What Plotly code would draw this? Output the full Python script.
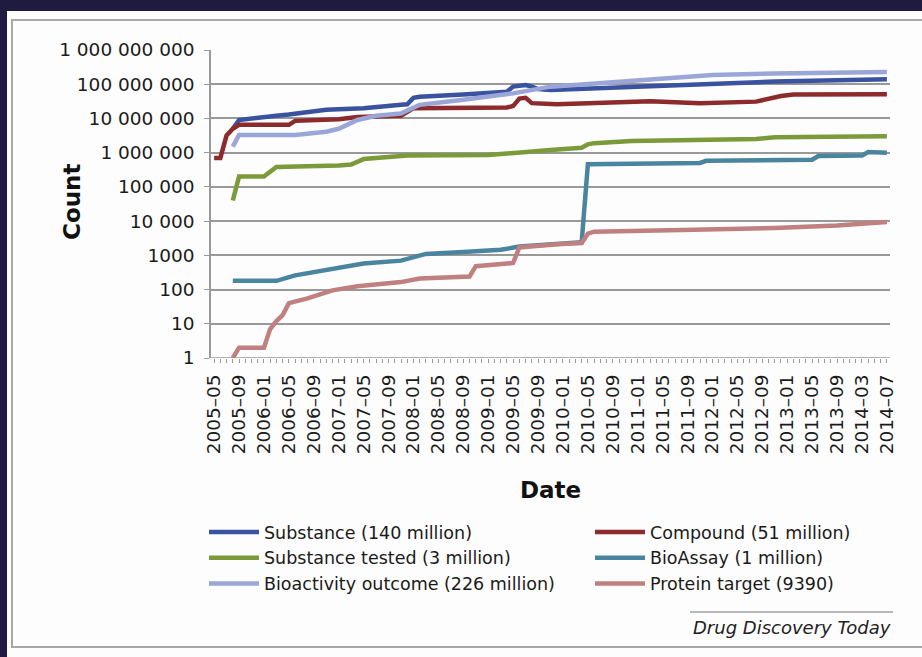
import plotly.graph_objects as go

# ---- categories on the date axis (monthly releases; 2013-12 and 2014-02 absent) ----
CATEGORIES = [f"{y}-{m:02d}" for y in range(2005, 2015) for m in range(1, 13)]
CATEGORIES = [c for c in CATEGORIES
              if "2005-05" <= c <= "2014-07" and c not in ("2013-12", "2014-02")]

TICK_LABELS = ["2005-05", "2005-09", "2006-01", "2006-05", "2006-09", "2007-01",
               "2007-05", "2007-09", "2008-01", "2008-05", "2008-09", "2009-01",
               "2009-05", "2009-09", "2010-01", "2010-05", "2010-09", "2011-01",
               "2011-05", "2011-09", "2012-01", "2012-05", "2012-09", "2013-01",
               "2013-05", "2013-09", "2014-03", "2014-07"]

Y_TICKS = [1, 10, 100, 1000, 1e4, 1e5, 1e6, 1e7, 1e8, 1e9]
Y_TICK_TEXT = ["1", "10", "100", "1000", "10 000", "100 000", "1 000 000",
               "10 000 000", "100 000 000", "1 000 000 000"]

# ---- series: release month -> count ----
substance_dates = ["2005-08", "2005-09", "2006-03", "2006-05", "2006-11", "2007-05",
                   "2007-11", "2007-12", "2008-01", "2008-02", "2008-09", "2009-04",
                   "2009-05", "2009-07", "2009-08", "2009-09", "2009-11", "2010-05",
                   "2011-03", "2012-01", "2012-11", "2013-09", "2014-07"]
substance_vals = [5.0e6, 9.0e6, 1.2e7, 1.3e7, 1.8e7, 2.0e7,
                  2.5e7, 2.6e7, 4.0e7, 4.3e7, 5.0e7, 6.0e7,
                  8.5e7, 9.5e7, 8.5e7, 7.2e7, 6.8e7, 7.5e7,
                  9.0e7, 1.07e8, 1.2e8, 1.3e8, 1.4e8]

compound_dates = ["2005-05", "2005-06", "2005-07", "2005-08", "2005-09", "2006-05",
                  "2006-06", "2007-01", "2007-04", "2007-10", "2007-11", "2008-01",
                  "2009-04", "2009-05", "2009-06", "2009-07", "2009-08", "2009-12",
                  "2010-11", "2011-03", "2011-11", "2012-08", "2012-12", "2013-02",
                  "2014-07"]
compound_vals = [7.0e5, 7.0e5, 3.2e6, 5.0e6, 6.5e6, 6.5e6,
                 8.5e6, 9.5e6, 1.1e7, 1.15e7, 1.2e7, 2.0e7,
                 2.1e7, 2.3e7, 3.8e7, 4.0e7, 2.8e7, 2.6e7,
                 2.9e7, 3.2e7, 2.8e7, 3.1e7, 4.5e7, 5.0e7,
                 5.1e7]

tested_dates = ["2005-08", "2005-09", "2006-01", "2006-03", "2007-01", "2007-03",
                "2007-05", "2007-09", "2007-12", "2009-01", "2009-05", "2009-11",
                "2010-04", "2010-05", "2010-06", "2010-12", "2012-08", "2012-11",
                "2014-07"]
tested_vals = [4.0e4, 2.0e5, 2.0e5, 3.8e5, 4.2e5, 4.5e5,
               6.5e5, 7.5e5, 8.3e5, 8.5e5, 9.5e5, 1.2e6,
               1.4e6, 1.75e6, 1.9e6, 2.2e6, 2.5e6, 2.8e6,
               3.0e6]

bioassay_dates = ["2005-08", "2006-02", "2006-03", "2006-06", "2006-09", "2006-12",
                  "2007-03", "2007-05", "2007-11", "2008-03", "2008-09", "2009-03",
                  "2009-06", "2009-12", "2010-04", "2010-05", "2011-11", "2011-12",
                  "2013-05", "2013-06", "2014-03", "2014-04", "2014-07"]
bioassay_vals = [180, 170, 180, 260, 320, 400,
                 470, 580, 700, 1100, 1250, 1450,
                 1800, 2100, 2400, 4.6e5, 5.0e5, 5.8e5,
                 6.2e5, 8.0e5, 8.2e5, 1.05e6, 1.0e6]

bioactivity_dates = ["2005-08", "2005-09", "2006-06", "2006-11", "2007-01", "2007-04",
                     "2007-07", "2007-11", "2007-12", "2008-02", "2008-09", "2009-05",
                     "2009-11", "2010-09", "2011-03", "2012-01", "2012-11", "2013-09",
                     "2014-07"]
bioactivity_vals = [1.5e6, 3.3e6, 3.3e6, 4.1e6, 5.0e6, 9.0e6,
                    1.2e7, 1.4e7, 1.7e7, 2.5e7, 3.5e7, 5.4e7,
                    8.5e7, 1.18e8, 1.4e8, 1.86e8, 2.05e8, 2.15e8,
                    2.26e8]

protein_dates = ["2005-08", "2005-09", "2006-01", "2006-02", "2006-03", "2006-04",
                 "2006-05", "2006-08", "2006-12", "2007-04", "2007-11", "2008-02",
                 "2008-10", "2008-11", "2009-05", "2009-06", "2009-12", "2010-04",
                 "2010-05", "2010-06", "2011-08", "2012-11", "2013-09", "2014-07"]
protein_vals = [1, 2, 2, 7, 12, 18,
                40, 55, 95, 125, 165, 210,
                240, 480, 600, 1700, 2100, 2300,
                4300, 4900, 5500, 6300, 7500, 9390]

# name, dates, values, colour, legend column
SERIES = [
    ("Substance (140 million)", substance_dates, substance_vals, "#3a53a0", "legend"),
    ("Compound (51 million)", compound_dates, compound_vals, "#8c2a2c", "legend2"),
    ("Substance tested (3 million)", tested_dates, tested_vals, "#7b9a3a", "legend"),
    ("BioAssay (1 million)", bioassay_dates, bioassay_vals, "#4a85a0", "legend2"),
    ("Bioactivity outcome (226 million)", bioactivity_dates, bioactivity_vals, "#9aa6d8", "legend"),
    ("Protein target (9390)", protein_dates, protein_vals, "#c0807f", "legend2"),
]

W, H = 922, 657
ML, MR, MT, MB = 211, 32, 50, 299
PW, PH = W - ML - MR, H - MT - MB
FONT = "DejaVu Sans, Verdana, sans-serif"
NAVY = "#1f1b40"
GRID = "#999999"
TEXT = "#1a1a1a"


def px(x):
    return (x - ML) / PW


def py(y):
    return (H - MB - y) / PH


fig = go.Figure()
for name, dates, vals, color, leg in SERIES:
    fig.add_trace(go.Scatter(x=dates, y=vals, name=name, mode="lines", legend=leg,
                             line=dict(color=color, width=4.5)))

tick_text = [c.replace("-", "\u2013") if c in TICK_LABELS else "" for c in CATEGORIES]

legend_style = dict(orientation="v", yanchor="top", xanchor="left",
                    bgcolor="rgba(0,0,0,0)", itemwidth=50,
                    font=dict(size=17.5, color=TEXT), traceorder="normal")

fig.update_layout(
    width=W, height=H,
    margin=dict(l=ML, r=MR, t=MT, b=MB),
    paper_bgcolor=NAVY,
    plot_bgcolor="rgba(0,0,0,0)",
    font=dict(family=FONT, size=18, color=TEXT),
    showlegend=True,
    legend=dict(x=px(204), y=py(514), **legend_style),
    legend2=dict(x=px(590), y=py(514), **legend_style),
    xaxis=dict(type="category", categoryorder="array", categoryarray=CATEGORIES,
               range=[-0.5, len(CATEGORIES) - 0.5],
               tickmode="array", tickvals=CATEGORIES, ticktext=tick_text,
               tickangle=-90, ticks="outside", ticklen=4, tickcolor=GRID,
               ticklabelstandoff=4,
               showline=False, showgrid=False, zeroline=False,
               tickfont=dict(size=18.5, color=TEXT)),
    yaxis=dict(type="log", range=[0, 9], tickmode="array", tickvals=Y_TICKS,
               ticktext=Y_TICK_TEXT, ticks="outside", ticklen=5, tickcolor=GRID,
               ticklabelstandoff=6,
               showline=True, linecolor=GRID, linewidth=1.5,
               showgrid=True, gridcolor=GRID, gridwidth=1.5, zeroline=False,
               tickfont=dict(size=18.5, color=TEXT)),
    shapes=[
        dict(type="rect", xref="paper", yref="paper", x0=px(7), x1=px(W + 5),
             y0=py(H + 5), y1=py(11), fillcolor="#fdfdfd", line=dict(width=0),
             layer="below"),
        dict(type="rect", xref="paper", yref="paper", x0=px(12), x1=px(W + 20),
             y0=py(647), y1=py(20), fillcolor="rgba(0,0,0,0)",
             line=dict(color="#a8a8a8", width=2), layer="below"),
        dict(type="line", xref="paper", yref="paper", x0=px(690), x1=px(893),
             y0=py(612), y1=py(612), line=dict(color="#777777", width=1.2)),
    ],
    annotations=[
        dict(text="<b>Count</b>", xref="paper", yref="paper", x=px(72), y=py(202),
             xanchor="center", yanchor="middle",
             textangle=-90, showarrow=False, font=dict(size=23, color="#111")),
        dict(text="<b>Date</b>", xref="paper", yref="paper", x=px(550), y=py(490),
             xanchor="center", yanchor="middle",
             showarrow=False, font=dict(size=23, color="#111")),
        dict(text="<i>Drug Discovery Today</i>", xref="paper", yref="paper",
             x=px(893), y=py(627), xanchor="right", yanchor="middle", showarrow=False,
             font=dict(size=18, color="#222")),
    ],
)

# horizontal baseline of the plot area
fig.add_hline(y=1, line=dict(color=GRID, width=1.5), layer="below")

fig.write_html("out.html")
